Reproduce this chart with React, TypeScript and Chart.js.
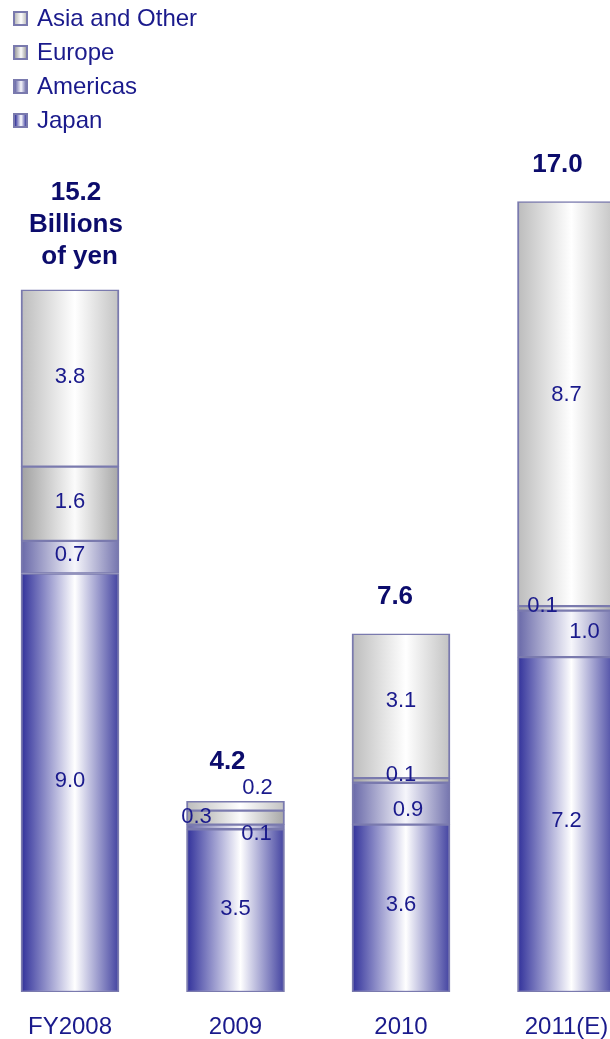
import React, { useEffect, useRef } from "react";
import { Chart, registerables } from "chart.js";

Chart.register(...registerables);

// ---- data ----
const categories = ["FY2008", "2009", "2010", "2011(E)"];
const japan = [9.0, 3.5, 3.6, 7.2];
const americas = [0.7, 0.1, 0.9, 1.0];
const europe = [1.6, 0.3, 0.1, 0.1];
const asiaOther = [3.8, 0.2, 3.1, 8.7];
const totals = [15.2, 4.2, 7.6, 17.0];
const totalUnitLines = [["Billions", " of yen"], [], [], []];
const seriesNames = ["Japan", "Americas", "Europe", "Asia and Other"];

// ---- styles ----
const FONT = '"Liberation Sans", Arial, sans-serif';
const LABEL_COLOR = "#1a1a8c";
const TOTAL_COLOR = "#0c0c6c";
const BORDER_COLOR = "#7a7aae";
const BAR_W = 98;
const TOTAL_GAP = 37;
const seriesEdgeLeft = ["#30309a", "#6868a8", "#a0a0a0", "#bcbcbc"];
const seriesEdgeRight = ["#4242a0", "#7474ae", "#a6a6a6", "#c2c2c2"];
const seriesMid = ["#ffffff", "#f6f6fb", "#fbfbfb", "#ffffff"];
// label nudges (dx, dy) per series per category, relative to segment centre
const segmentLabelOffsets = [
  [[0, -2], [0, -2], [0, -3], [0, -4]],
  [[0, -2], [21, 7], [7, 6], [18, -2]],
  [[0, -2], [-39, -1], [0, -5], [-24, -2]],
  [[0, -1], [22, -18], [0, -5], [0, -9]],
];
const totalOffsets = [[6, 4], [-8, -3], [-6, 0], [-9, 0]];

const seriesValues = [japan, americas, europe, asiaOther];

function makeBg(i: number) {
  return (c: any) => {
    const chart = c.chart;
    const xs = chart.scales && chart.scales.x;
    if (c.type !== "data" || !xs || !chart.chartArea) return seriesEdgeLeft[i];
    const cx = xs.getPixelForValue(c.dataIndex);
    const g = chart.ctx.createLinearGradient(cx - BAR_W / 2, 0, cx + BAR_W / 2, 0);
    g.addColorStop(0, seriesEdgeLeft[i]);
    g.addColorStop(0.55, seriesMid[i]);
    g.addColorStop(1, seriesEdgeRight[i]);
    return g;
  };
}

const labelPlugin = {
  id: "segLabels",
  afterDatasetsDraw(chart: any) {
    const ctx = chart.ctx;
    ctx.save();
    ctx.font = `22px ${FONT}`;
    ctx.fillStyle = LABEL_COLOR;
    ctx.textAlign = "center";
    ctx.textBaseline = "middle";
    chart.data.datasets.forEach((ds: any, i: number) => {
      const meta = chart.getDatasetMeta(i);
      meta.data.forEach((el: any, j: number) => {
        const { x, y, base } = el.getProps(["x", "y", "base"], true);
        const [dx, dy] = segmentLabelOffsets[i][j];
        ctx.fillText(Number(ds.data[j]).toFixed(1), x + dx, (y + base) / 2 + dy);
      });
    });
    ctx.font = `bold 26px ${FONT}`;
    ctx.fillStyle = TOTAL_COLOR;
    const ys = chart.scales.y;
    const xs = chart.scales.x;
    totals.forEach((t, j) => {
      const sum = seriesValues.reduce((a, s) => a + s[j], 0);
      const top = ys.getPixelForValue(sum);
      const cx = xs.getPixelForValue(j);
      const lines = [t.toFixed(1), ...totalUnitLines[j]];
      const [dx, dy] = totalOffsets[j];
      const bottomY = top - TOTAL_GAP + dy;
      lines.forEach((ln, k) => {
        ctx.fillText(ln, cx + dx, bottomY - (lines.length - 1 - k) * 32);
      });
    });
    ctx.restore();
  },
};

export default function App() {
  const ref = useRef<HTMLCanvasElement | null>(null);

  useEffect(() => {
    if (!ref.current) return;
    const chart = new Chart(ref.current, {
      type: "bar",
      data: {
        labels: categories,
        datasets: seriesValues.map((vals, i) => ({
          label: seriesNames[i],
          data: vals,
          backgroundColor: makeBg(i),
          borderColor: BORDER_COLOR,
          borderWidth: { top: 1.5, bottom: 1.5, left: 2, right: 2 },
          borderSkipped: false,
          barThickness: BAR_W,
        })),
      },
      options: {
        animation: false,
        responsive: false,
        layout: { padding: { left: 7.25, right: 30.75, top: 62, bottom: 0 } },
        plugins: {
          legend: { display: false },
          tooltip: { enabled: false },
        },
        scales: {
          x: {
            stacked: true,
            grid: { display: false, drawTicks: false },
            border: { display: false },
            ticks: {
              color: LABEL_COLOR,
              font: { family: FONT, size: 24 },
              padding: 21,
              maxRotation: 0,
              autoSkip: false,
            },
            afterFit: (scale: any) => {
              scale.height = 47;
            },
          },
          y: {
            stacked: true,
            display: false,
            min: 0,
            max: 20,
          },
        },
      },
      plugins: [labelPlugin],
    } as any);
    return () => chart.destroy();
  }, []);

  const legendOrder = [3, 2, 1, 0];

  return (
    <div
      style={{
        position: "fixed",
        left: 0,
        top: 0,
        width: 610,
        height: 1039,
        overflow: "hidden",
        background: "#ffffff",
      }}
    >
      <canvas
        ref={ref}
        width={700}
        height={1039}
        style={{ position: "absolute", left: -20, top: 0, width: 700, height: 1039 }}
      />
      <div style={{ position: "absolute", left: 13, top: 1 }}>
        {legendOrder.map((i) => (
          <div
            key={i}
            style={{
              height: 34,
              lineHeight: "34px",
              display: "flex",
              alignItems: "center",
              font: `24px ${FONT}`,
              color: LABEL_COLOR,
              whiteSpace: "nowrap",
            }}
          >
            <span
              style={{
                display: "inline-block",
                width: 15,
                height: 15,
                boxSizing: "border-box",
                border: `2px solid ${BORDER_COLOR}`,
                background: `linear-gradient(90deg, ${seriesEdgeLeft[i]}, ${seriesMid[i]} 55%, ${seriesEdgeRight[i]})`,
                marginRight: 9,
                flex: "none",
              }}
            />
            {seriesNames[i]}
          </div>
        ))}
      </div>
    </div>
  );
}
